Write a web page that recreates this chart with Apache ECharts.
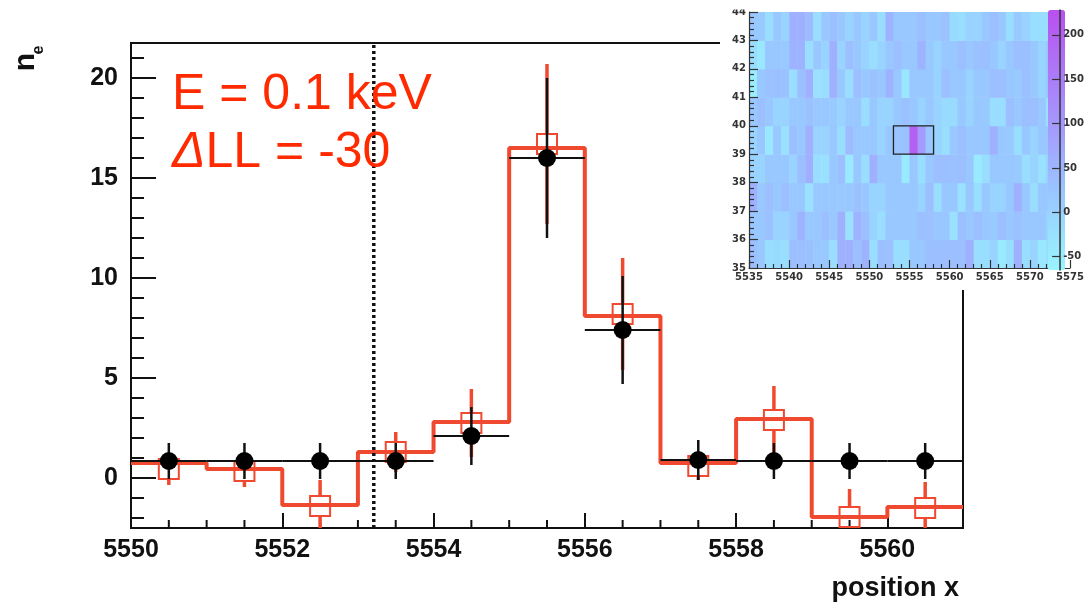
<!DOCTYPE html>
<html>
<head>
<meta charset="utf-8">
<script src="https://cdn.jsdelivr.net/npm/echarts@6/dist/echarts.min.js"></script>
<style>
  html, body { margin: 0; padding: 0; background: #fff; }
  #chart { width: 1087px; height: 604px; }
</style>
</head>
<body>
<div id="chart"></div>
<script>
// ---- profile along x (one row of the map) ----
const binEdges   = [5550, 5551, 5552, 5553, 5554, 5555, 5556, 5557, 5558, 5559, 5560, 5561];
const binCenters = [5550.5, 5551.5, 5552.5, 5553.5, 5554.5, 5555.5, 5556.5, 5557.5, 5558.5, 5559.5, 5560.5];

// measured counts (black points) and their errors
const dataCounts = [0.85, 0.85, 0.85, 0.85, 2.1, 16.0, 7.4, 0.9, 0.85, 0.85, 0.85];
const dataErr    = [0.9, 0.9, 0.9, 0.9, 1.45, 4.0, 2.7, 1.0, 0.9, 0.9, 0.9];

// model histogram (red steps), model points (open squares) and errors
const modelHist = [0.75, 0.45, -1.35, 1.3, 2.8, 16.5, 8.1, 0.75, 2.95, -1.95, -1.45];
const modelPts  = [0.45, 0.35, -1.4, 1.3, 2.75, 16.7, 8.2, 0.6, 2.9, -1.95, -1.5];
const modelErr  = [0.8, 0.8, 1.3, 1.0, 1.7, 4.0, 2.8, 0.7, 1.7, 1.4, 1.3];

// vertical dotted marker
const cutX = 5553.21;

// main axes
const xRange = [5550, 5561];
const yRange = [-2.5, 21.75];
const xMajorTicks = [5550, 5552, 5554, 5556, 5558, 5560];
const xMinorTicks = [5550.5, 5551, 5551.5, 5552.5, 5553, 5553.5, 5554.5, 5555, 5555.5,
                     5556.5, 5557, 5557.5, 5558.5, 5559, 5559.5, 5560.5];
const yMajorTicks = [0, 5, 10, 15, 20];
const yMinorTicks = [-2, -1, 1, 2, 3, 4, 6, 7, 8, 9, 11, 12, 13, 14, 16, 17, 18, 19, 21];

// ---- inset map: columns x = 5535 ... 5572, one array per row y ----
const mapX0 = 5535;
const row43 = [20, 15, -20, 20, 0, 60, 60, 40, -20, 20, 35, 20, 0, 20, 0, 20, -20, 55, 20,
               20, 20, 35, 20, 20, 30, -15, -20, 0, 0, 20, 35, 20, -20, 15, 0, -20, -20, -20];
const row42 = [-20, -40, 20, 20, 15, 55, 55, -20, 20, 0, 60, 0, 35, 20, 0, -20, 0, 20, 35,
               20, 20, 55, 15, 0, 20, 20, 35, 20, 30, 35, 20, 0, 20, 35, 35, 20, 0, 20];
const row41 = [-50, 20, 30, 35, 30, -20, 35, 60, -25, -20, 60, 20, -20, 35, 20, 30, 20, 55, 20,
               -35, 20, 20, 20, 0, 35, 20, 20, 0, 20, 20, 35, 35, 20, 15, 35, 20, 0, 20];
const row40 = [20, 35, 20, 0, 0, 20, 20, 30, 20, 20, 15, 0, 20, 20, -20, 20, 0, 0, 20,
               30, 20, 0, 20, 0, -15, -15, 20, 0, 20, 15, -20, -20, 35, 20, 35, 35, 20, -25];
const row39 = [0, 20, -40, 20, -25, 35, 20, 60, 0, 0, 20, -20, 40, 20, 20, 20, 0, 20, 25,
               30, 200, 95, 20, 0, -20, 20, 35, 20, 20, 20, 60, 20, 15, -20, 20, 0, 20, 20];
const row38 = [0, 0, 20, 20, 20, 0, 35, 60, -20, -25, 20, 35, -45, 20, -20, 60, 20, 20, 20,
               -45, 20, -20, 20, 35, 35, 30, 35, 20, -45, -20, 20, 20, 20, 15, -20, 0, -25, 0];
const row37 = [60, 20, 35, 20, 35, 20, 20, -25, 20, 20, 20, 15, 20, 30, 20, 0, 0, 20, 20,
               20, 20, 0, 35, -20, 20, 20, -25, 20, -20, 20, 0, 0, 20, 60, 20, -20, 20, 15];
const row36 = [20, 20, 30, 0, 0, 20, 55, 20, 20, 35, 20, 60, -25, 55, 35, 0, -20, 20, 20,
               20, 20, 35, 30, 20, 20, -25, 35, 20, 35, 20, 15, 35, 20, 30, 20, 20, 20, 0];
const row35 = [35, 20, -20, -15, -20, 35, 35, 30, 20, 20, -20, 60, 60, 35, 55, -20, 35, 30, -20,
               -20, 20, 20, 35, 35, 35, 35, 35, 60, -20, -20, 0, -45, -20, 60, -20, 0, -40, -20];
const mapRows = [[35, row35], [36, row36], [37, row37], [38, row38], [39, row39],
                 [40, row40], [41, row41], [42, row42], [43, row43]];

// selected window on the map
const mapBox = [5553, 39, 5558, 40];

// colour scale of the map
const colorRange = [-65, 228];
const colorTicks = [-50, 0, 50, 100, 150, 200];
const mapPalette = ['#99f4ff', '#99e0ff', '#99c8ff', '#9fb0ff', '#a596fc', '#aa80f8', '#b168f4', '#b850f0'];

// ---- derived series data ----
const stepData = binEdges.map((x, i) => [x, modelHist[Math.min(i, modelHist.length - 1)]]);
const blackData = binCenters.map((x, i) => [x, dataCounts[i], dataErr[i]]);
const redData = binCenters.map((x, i) => [x, modelPts[i], modelErr[i]]);
const halfBin = (binEdges[1] - binEdges[0]) / 2;
const mapData = [];
mapRows.forEach(([y, vals]) => vals.forEach((v, k) => mapData.push([mapX0 + k, y, v])));

const INK = '#111';
const RED = '#ef4a30';
const MAIN_FONT = '"Liberation Sans", Arial, sans-serif';
const INSET_FONT = '"DejaVu Sans", sans-serif';
const plain = v => String(v);

const chart = echarts.init(document.getElementById('chart'), null, { renderer: 'canvas' });

const clampY = v => Math.max(yRange[0], Math.min(yRange[1], v));

// short minor tick marks along the main axes, placed through the axis scales
const minorTickSeries = (values, horizontal, len) => ({
  type: 'custom', xAxisIndex: 0, yAxisIndex: 0, z: 3, silent: true,
  data: values.map(v => [v]),
  renderItem: (params, api) => {
    const v = api.value(0);
    if (horizontal) {
      const p = api.coord([v, yRange[0]]);
      return { type: 'line', shape: { x1: p[0], y1: p[1], x2: p[0], y2: p[1] - len }, style: { stroke: INK, lineWidth: 2 } };
    }
    const p = api.coord([xRange[0], v]);
    return { type: 'line', shape: { x1: p[0], y1: p[1], x2: p[0] + len, y2: p[1] }, style: { stroke: INK, lineWidth: 2 } };
  }
});

chart.setOption({
  animation: false,
  backgroundColor: '#fff',
  grid: [
    { left: 131, top: 43, width: 832, height: 485, show: true, borderColor: INK, borderWidth: 2, backgroundColor: 'transparent' },
    { left: 749, top: 12, width: 321, height: 256, show: false },
    { left: 1048, top: 10, width: 17, height: 260, show: false }
  ],
  xAxis: [
    {
      gridIndex: 0, type: 'value', position: 'bottom', min: xRange[0], max: xRange[1],
      axisLine: { onZero: false, lineStyle: { color: INK, width: 2 } },
      axisTick: { customValues: xMajorTicks, inside: true, length: 15, lineStyle: { color: INK, width: 2 } },
      axisLabel: { customValues: xMajorTicks, formatter: plain, fontSize: 25, fontWeight: 'bold', color: INK, margin: 10, fontFamily: MAIN_FONT },
      splitLine: { show: false }
    },
    {
      gridIndex: 1, type: 'value', position: 'bottom', min: 5535, max: 5575, interval: 5, z: 60,
      axisLine: { onZero: false, lineStyle: { color: '#333', width: 1.2 } },
      axisTick: { inside: true, length: 8, lineStyle: { color: '#333', width: 1.2 } },
      minorTick: { show: true, splitNumber: 5, length: 4, lineStyle: { color: '#333', width: 1.2 } },
      axisLabel: { formatter: plain, fontSize: 10, fontWeight: 'bold', color: '#333', margin: 4, fontFamily: INSET_FONT },
      splitLine: { show: false }
    },
    { gridIndex: 2, type: 'value', min: 0, max: 1, show: false }
  ],
  yAxis: [
    {
      gridIndex: 0, type: 'value', position: 'left', min: yRange[0], max: yRange[1],
      axisLine: { onZero: false, lineStyle: { color: INK, width: 2 } },
      axisTick: { customValues: yMajorTicks, inside: true, length: 25, lineStyle: { color: INK, width: 2 } },
      axisLabel: { customValues: yMajorTicks, formatter: plain, fontSize: 25, fontWeight: 'bold', color: INK, margin: 13, fontFamily: MAIN_FONT },
      splitLine: { show: false }
    },
    {
      gridIndex: 1, type: 'value', position: 'left', min: 35, max: 44, interval: 1, z: 60,
      axisLine: { onZero: false, lineStyle: { color: '#333', width: 1.2 } },
      axisTick: { inside: true, length: 9, lineStyle: { color: '#333', width: 1.2 } },
      minorTick: { show: true, splitNumber: 5, length: 5, lineStyle: { color: '#333', width: 1.2 } },
      axisLabel: { formatter: plain, fontSize: 10, fontWeight: 'bold', color: '#333', margin: 3, fontFamily: INSET_FONT },
      splitLine: { show: false }
    },
    {
      gridIndex: 2, type: 'value', position: 'right', min: colorRange[0], max: colorRange[1], z: 70,
      axisLine: { onZero: false, lineStyle: { color: '#333', width: 1.5 } },
      axisTick: { customValues: colorTicks, inside: true, length: 8, lineStyle: { color: '#333', width: 1.2 } },
      axisLabel: { customValues: colorTicks, formatter: plain, fontSize: 10, fontWeight: 'bold', color: '#333', margin: 3, fontFamily: INSET_FONT },
      splitLine: { show: false }
    }
  ],
  visualMap: {
    type: 'continuous', seriesIndex: 7, dimension: 2,
    min: colorRange[0], max: colorRange[1],
    inRange: { color: mapPalette },
    calculable: false, hoverLink: false, show: true,
    left: 1043, top: 5, padding: 5, itemWidth: 17, itemHeight: 260,
    text: null, z: 70
  },
  graphic: [
    // white panel behind the inset
    { type: 'rect', shape: { x: 720, y: 0, width: 367, height: 290 }, style: { fill: '#fff' }, z: 50 },
    // top strip of the inset panel
    { type: 'rect', shape: { x: 720, y: 0, width: 326, height: 9.5 }, style: { fill: '#fff' }, z: 80 },
    { type: 'text', z: 10, style: { x: 172, y: 95, text: 'E = 0.1 keV', fontSize: 50, fontFamily: MAIN_FONT, fill: '#ff2a00', verticalAlign: 'middle' } },
    { type: 'text', z: 10, style: { x: 172, y: 153, text: '{i|Δ}LL = -30', fontSize: 50, fontFamily: MAIN_FONT, fill: '#ff2a00', verticalAlign: 'middle',
        rich: { i: { fontStyle: 'italic', fontSize: 50, fontFamily: MAIN_FONT, fill: '#ff2a00' } } } },
    // y title n_e (rotated)
    { type: 'text', x: 26, y: 62, rotation: Math.PI / 2, z: 10,
      style: { text: 'n', fontSize: 30, fontWeight: 'bold', fontFamily: MAIN_FONT, fill: INK, align: 'center', verticalAlign: 'middle' } },
    { type: 'text', x: 39, y: 50, rotation: Math.PI / 2, z: 10,
      style: { text: 'e', fontSize: 16, fontWeight: 'bold', fontFamily: MAIN_FONT, fill: INK, align: 'center', verticalAlign: 'middle' } },
    // x title
    { type: 'text', z: 10, style: { x: 959, y: 589, text: 'position x', fontSize: 27, fontWeight: 'bold', fontFamily: MAIN_FONT, fill: INK, align: 'right', verticalAlign: 'middle' } }
  ],
  series: [
    // 0: model histogram
    {
      type: 'line', xAxisIndex: 0, yAxisIndex: 0, data: stepData, step: 'end', symbol: 'none', z: 3,
      lineStyle: { color: RED, width: 4 }
    },
    // 1: model error bars (interrupted at the square marker)
    {
      type: 'custom', xAxisIndex: 0, yAxisIndex: 0, data: redData, z: 4,
      renderItem: (params, api) => {
        const x = api.value(0), v = api.value(1), e = api.value(2);
        const c = api.coord([x, v]);
        const top = api.coord([x, clampY(v + e)]);
        const bot = api.coord([x, clampY(v - e)]);
        const gap = 10;
        const kids = [];
        if (c[1] - gap > top[1]) kids.push({ type: 'line', shape: { x1: c[0], y1: top[1], x2: c[0], y2: c[1] - gap }, style: { stroke: RED, lineWidth: 3.5 } });
        if (bot[1] > c[1] + gap) kids.push({ type: 'line', shape: { x1: c[0], y1: c[1] + gap, x2: c[0], y2: bot[1] }, style: { stroke: RED, lineWidth: 3.5 } });
        return { type: 'group', children: kids };
      }
    },
    // 2: model points (open squares)
    {
      type: 'scatter', xAxisIndex: 0, yAxisIndex: 0, z: 4,
      data: binCenters.map((x, i) => [x, modelPts[i]]),
      symbol: 'rect', symbolSize: 20,
      itemStyle: { color: 'rgba(0,0,0,0)', borderColor: RED, borderWidth: 2, opacity: 1 }
    },
    // 3: dotted marker line
    {
      type: 'line', xAxisIndex: 0, yAxisIndex: 0, symbol: 'none', z: 5,
      data: [[cutX, yRange[0]], [cutX, yRange[1]]],
      lineStyle: { color: INK, width: 3.5, type: [3, 3] }
    },
    // 4: data error bars
    {
      type: 'custom', xAxisIndex: 0, yAxisIndex: 0, data: blackData, z: 6,
      renderItem: (params, api) => {
        const x = api.value(0), v = api.value(1), e = api.value(2);
        const top = api.coord([x, clampY(v + e)]);
        const bot = api.coord([x, clampY(v - e)]);
        const l = api.coord([x - halfBin, v]);
        const r = api.coord([x + halfBin, v]);
        return { type: 'group', children: [
          { type: 'line', shape: { x1: top[0], y1: top[1], x2: bot[0], y2: bot[1] }, style: { stroke: INK, lineWidth: 2.5 } },
          { type: 'line', shape: { x1: l[0], y1: l[1], x2: r[0], y2: r[1] }, style: { stroke: INK, lineWidth: 2 } }
        ] };
      }
    },
    // 5: data points
    {
      type: 'scatter', xAxisIndex: 0, yAxisIndex: 0, z: 7,
      data: binCenters.map((x, i) => [x, dataCounts[i]]),
      symbol: 'circle', symbolSize: 18, itemStyle: { color: '#000', opacity: 1 }
    },
    // 6: placeholder on the colour-bar grid so its axis is laid out
    { type: 'scatter', xAxisIndex: 2, yAxisIndex: 2, data: [], z: 70 },
    // 7: inset map cells
    {
      type: 'custom', xAxisIndex: 1, yAxisIndex: 1, data: mapData, z: 60,
      encode: { x: 0, y: 1 },
      renderItem: (params, api) => {
        const x = api.value(0), y = api.value(1);
        const p0 = api.coord([x, y + 1]);
        const p1 = api.coord([x + 1, y]);
        return { type: 'rect', shape: { x: p0[0], y: p0[1], width: p1[0] - p0[0] + 0.5, height: p1[1] - p0[1] + 0.5 },
                 style: { fill: api.visual('color') } };
      }
    },
    // 8: selected window outline
    {
      type: 'custom', xAxisIndex: 1, yAxisIndex: 1, data: [mapBox], z: 65,
      renderItem: (params, api) => {
        const p0 = api.coord([api.value(0), api.value(3)]);
        const p1 = api.coord([api.value(2), api.value(1)]);
        return { type: 'rect', shape: { x: p0[0], y: p0[1], width: p1[0] - p0[0], height: p1[1] - p0[1] },
                 style: { fill: 'none', stroke: '#222', lineWidth: 1.3 } };
      }
    },
    // 9, 10: minor ticks of the main panel
    minorTickSeries(xMinorTicks, true, 8),
    minorTickSeries(yMinorTicks, false, 13)
  ]
});
</script>
</body>
</html>
